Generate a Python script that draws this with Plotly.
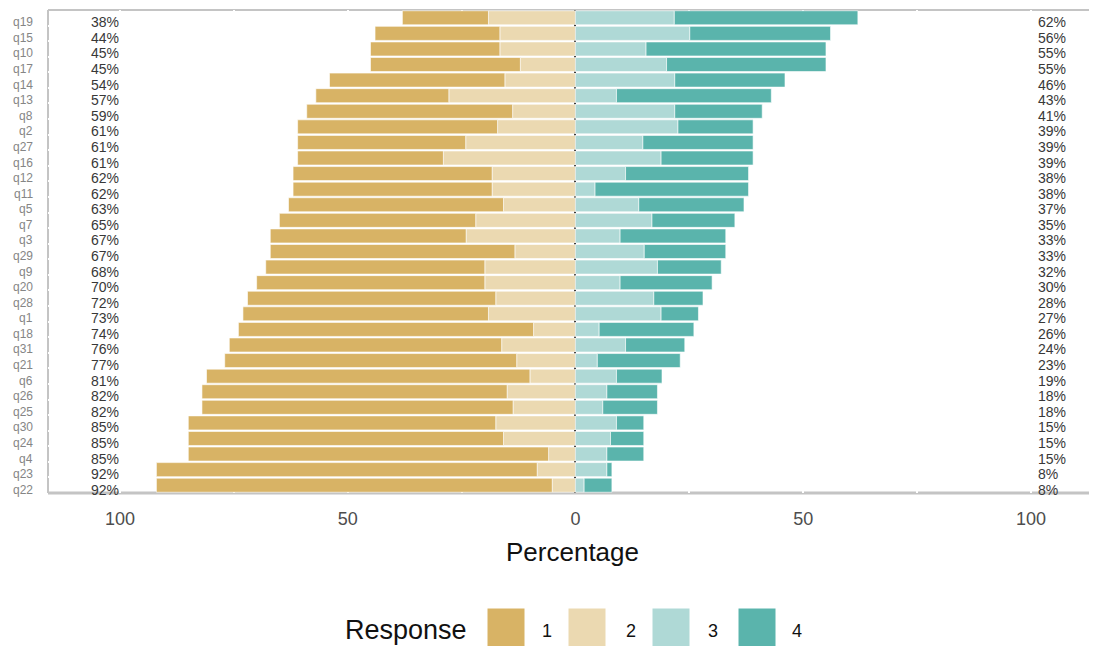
import plotly.graph_objects as go

# ---- data ----
questions = ["q19", "q15", "q10", "q17", "q14", "q13", "q8", "q2", "q27", "q16",
             "q12", "q11", "q5", "q7", "q3", "q29", "q9", "q20", "q28", "q1",
             "q18", "q31", "q21", "q6", "q26", "q25", "q30", "q24", "q4", "q23", "q22"]
resp1 = [18.9, 27.4, 28.4, 32.9, 38.5, 29.2, 45.2, 43.9, 36.9, 32.0,
         43.7, 43.7, 47.2, 43.1, 43.0, 53.7, 48.1, 50.1, 54.5, 53.9,
         64.8, 59.8, 64.1, 71.0, 67.0, 68.3, 67.5, 69.2, 79.1, 83.6, 86.9]
resp2 = [19.1, 16.6, 16.6, 12.1, 15.5, 27.8, 13.8, 17.1, 24.1, 29.0,
         18.3, 18.3, 15.8, 21.9, 24.0, 13.3, 19.9, 19.9, 17.5, 19.1,
         9.2, 16.2, 12.9, 10.0, 15.0, 13.7, 17.5, 15.8, 5.9, 8.4, 5.1]
resp3 = [21.7, 25.1, 15.5, 20.0, 21.8, 9.0, 21.8, 22.5, 14.8, 18.8,
         11.0, 4.3, 13.9, 16.8, 9.8, 15.1, 18.0, 9.8, 17.2, 18.8,
         5.2, 11.0, 4.8, 9.0, 6.9, 6.0, 9.0, 7.7, 6.9, 6.9, 1.9]
resp4 = [40.3, 30.9, 39.5, 35.0, 24.2, 34.0, 19.2, 16.5, 24.2, 20.2,
         27.0, 33.7, 23.1, 18.2, 23.2, 17.9, 14.0, 20.2, 10.8, 8.2,
         20.8, 13.0, 18.2, 10.0, 11.1, 12.0, 6.0, 7.3, 8.1, 1.1, 6.1]
response_levels = ["1", "2", "3", "4"]
x_tickvals = [-100, -50, 0, 50, 100]
x_ticktext = ["100", "50", "0", "50", "100"]

colors = {"1": "#D8B365", "2": "#EBD9B1", "3": "#AFD9D6", "4": "#5AB4AC"}
FONT = "Liberation Sans, Arial, sans-serif"

left_tot = [a + b for a, b in zip(resp1, resp2)]
right_tot = [a + b for a, b in zip(resp3, resp4)]

fig = go.Figure()
# negative side: level 2 nearest zero, then level 1
for lvl, vals in (("2", resp2), ("1", resp1)):
    fig.add_trace(go.Bar(y=questions, x=[-v for v in vals], orientation="h",
                         name=lvl, marker=dict(color=colors[lvl], line=dict(color="white", width=0.6)),
                         showlegend=False))
for lvl, vals in (("3", resp3), ("4", resp4)):
    fig.add_trace(go.Bar(y=questions, x=vals, orientation="h",
                         name=lvl, marker=dict(color=colors[lvl], line=dict(color="white", width=0.6)),
                         showlegend=False))

# page has an 8px body margin: the figure is offset by OFF pixels
OFF = 8
W, H = 1097 - OFF, 646 - OFF
PL, PR, PT, PB = 48 - OFF, 1097 - OFF, 10 - OFF, 493 - OFF   # plot area in figure px

# panel border (gray) below white gridlines
border = "#c4c4c4"
shapes = [
    dict(type="line", xref="paper", yref="paper", x0=0, x1=1, y0=1, y1=1,
         line=dict(color=border, width=2), layer="below"),
    dict(type="line", xref="paper", yref="paper", x0=0, x1=1, y0=0, y1=0,
         line=dict(color=border, width=3), layer="below"),
    dict(type="line", xref="paper", yref="paper", x0=0, x1=0, y0=0, y1=1,
         line=dict(color=border, width=2), layer="below"),
]

annotations = []
LABEL_SHIFT = -4.5  # text sits slightly below the bar centres in the reference
for q, lt, rt in zip(questions, left_tot, right_tot):
    annotations.append(dict(text=q, x=0, xref="paper", y=q, yref="y", xanchor="right",
                            xshift=-13, yshift=LABEL_SHIFT, showarrow=False,
                            font=dict(family=FONT, size=12, color="#858585")))
    annotations.append(dict(text=f"{round(lt)}%", x=-103.2, xref="x", y=q, yref="y",
                            xanchor="center", yshift=LABEL_SHIFT, showarrow=False,
                            font=dict(family=FONT, size=14, color="#383838")))
    annotations.append(dict(text=f"{round(rt)}%", x=101.2, xref="x", y=q, yref="y",
                            xanchor="left", yshift=LABEL_SHIFT, showarrow=False,
                            font=dict(family=FONT, size=14, color="#383838")))

def px_x(p):  # page px -> paper
    return (p - OFF - PL) / (PR - PL)
def px_y(p):
    return (PB - (p - OFF)) / (PB - PT)

annotations.append(dict(text="Response", x=px_x(406), y=px_y(630), xref="paper", yref="paper",
                        showarrow=False, font=dict(family=FONT, size=27, color="#111111"),
                        xanchor="center", yanchor="middle"))
box_left = [487, 568, 652, 738]
lab_x = [547, 631, 713, 797]
for lvl, bx, lx in zip(response_levels, box_left, lab_x):
    shapes.append(dict(type="rect", xref="paper", yref="paper",
                       x0=px_x(bx), x1=px_x(bx + 38), y0=px_y(608), y1=px_y(648),
                       fillcolor=colors[lvl], line=dict(color="white", width=1)))
    annotations.append(dict(text=lvl, x=px_x(lx), y=px_y(631), xref="paper", yref="paper",
                            showarrow=False, font=dict(family=FONT, size=18, color="#111111"),
                            xanchor="center", yanchor="middle"))

fig.update_layout(
    width=W, height=H,
    margin=dict(l=PL, r=W - PR, t=PT, b=H - PB),
    barmode="relative", bargap=0.1,
    plot_bgcolor="white", paper_bgcolor="white",
    shapes=shapes, annotations=annotations,
    xaxis=dict(range=[-115.8, 114.5], tickvals=x_tickvals, ticktext=x_ticktext,
               showgrid=True, gridcolor="white", gridwidth=2,
               minor=dict(dtick=25, tick0=0, showgrid=True, gridcolor="white", gridwidth=2),
               zeroline=True, zerolinecolor="black", zerolinewidth=1.5,
               ticks="outside", ticklen=9, tickcolor="rgba(0,0,0,0)",
               tickfont=dict(family=FONT, size=18, color="#4d4d4d"),
               title=dict(text="Percentage", font=dict(family=FONT, size=26, color="#111111"),
                          standoff=15),
               fixedrange=True),
    yaxis=dict(categoryorder="array", categoryarray=questions,
               range=[30.5, -0.5], tickson="boundaries",
               showgrid=True, gridcolor="white", gridwidth=2,
               ticks="", showticklabels=False,
               zeroline=False, fixedrange=True),
)

fig.write_html("out.html")
